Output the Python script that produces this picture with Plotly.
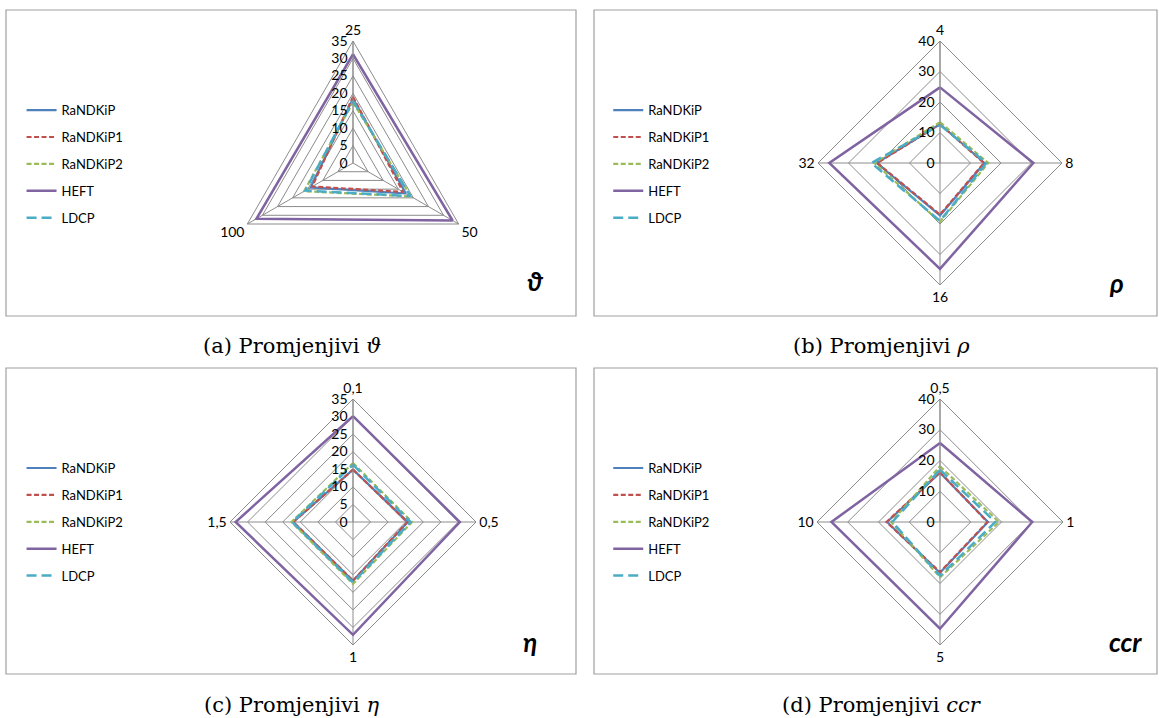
import plotly.graph_objects as go

# ---------------------------------------------------------------------------
# data
# ---------------------------------------------------------------------------
series_names = ["RaNDKiP", "RaNDKiP1", "RaNDKiP2", "HEFT", "LDCP"]

theta_cats = ["25", "50", "100"]
a_randkip = [18.5, 17.5, 14.0]
a_randkip1 = [19.0, 16.6, 13.5]
a_randkip2 = [17.4, 19.2, 16.2]
a_heft = [31.2, 33.0, 32.0]
a_ldcp = [17.8, 19.0, 15.8]

rho_cats = ["4", "8", "16", "32"]
b_randkip = [12.7, 14.6, 17.2, 20.8]
b_randkip1 = [12.7, 14.4, 16.9, 20.6]
b_randkip2 = [13.4, 15.8, 19.3, 21.5]
b_heft = [24.8, 30.6, 34.7, 36.3]
b_ldcp = [12.5, 15.2, 19.0, 22.5]

eta_cats = ["0,1", "0,5", "1", "1,5"]
c_randkip = [14.9, 15.6, 16.7, 17.0]
c_randkip1 = [14.9, 15.5, 16.7, 17.0]
c_randkip2 = [16.8, 16.8, 17.6, 17.5]
c_heft = [30.1, 30.4, 32.1, 33.4]
c_ldcp = [16.3, 16.4, 17.2, 17.3]

ccr_cats = ["0,5", "1", "5", "10"]
d_randkip = [16.0, 15.6, 16.5, 17.2]
d_randkip1 = [16.2, 15.4, 16.3, 17.4]
d_randkip2 = [18.1, 19.2, 18.0, 15.8]
d_heft = [25.7, 30.0, 34.7, 35.3]
d_ldcp = [17.0, 18.0, 17.5, 15.5]

panels = [
    ("polar", "legend", theta_cats, [a_randkip, a_randkip1, a_randkip2, a_heft, a_ldcp], 35, 5),
    ("polar2", "legend2", rho_cats, [b_randkip, b_randkip1, b_randkip2, b_heft, b_ldcp], 40, 10),
    ("polar3", "legend3", eta_cats, [c_randkip, c_randkip1, c_randkip2, c_heft, c_ldcp], 35, 5),
    ("polar4", "legend4", ccr_cats, [d_randkip, d_randkip1, d_randkip2, d_heft, d_ldcp], 40, 10),
]

styles = {
    "RaNDKiP": dict(color="#4F81BD", width=2.2, dash="solid"),
    "RaNDKiP1": dict(color="#C0504D", width=2.2, dash="5px,2.5px"),
    "RaNDKiP2": dict(color="#9BBB59", width=2.2, dash="5px,2.5px"),
    "HEFT": dict(color="#8064A2", width=2.5, dash="solid"),
    "LDCP": dict(color="#4BACC6", width=2.5, dash="10px,5px"),
}

W, H = 1159, 718
FONT = "Lato"
GRID = "#8C8C8C"


def px_dom(cx, cy, r):
    """centre/radius in pixels -> polar domain in paper coords"""
    return dict(x=[(cx - r) / W, (cx + r) / W], y=[1 - (cy + r) / H, 1 - (cy - r) / H])


domains = [px_dom(353, 163, 122), px_dom(940, 163, 122),
           px_dom(353, 522, 123), px_dom(940, 522, 123)]

fig = go.Figure()

for (pname, lname, cats, vals, rmax, dt) in panels:
    for name, v in zip(series_names, vals):
        fig.add_trace(
            go.Scatterpolar(
                r=v + [v[0]],
                theta=cats + [cats[0]],
                mode="lines",
                name=name,
                line=styles[name],
                subplot=pname,
                legend=lname,
                legendgroup=pname + name,
                hoverinfo="skip",
            )
        )

for i, (pname, lname, cats, vals, rmax, dt) in enumerate(panels):
    fig.layout[pname] = dict(
        domain=domains[i],
        gridshape="linear",
        bgcolor="white",
        radialaxis=dict(
            range=[0, rmax], dtick=dt, angle=90, side="counterclockwise",
            tickangle=90,
            showline=True, linecolor=GRID, linewidth=1,
            gridcolor=GRID, gridwidth=1, ticks="",
            tickfont=dict(family=FONT, size=14, color="black"),
        ),
        angularaxis=dict(
            type="category", categoryarray=cats, direction="clockwise", rotation=90,
            showline=True, linecolor=GRID, linewidth=1,
            gridcolor=GRID, gridwidth=1, ticks="",
            tickfont=dict(family=FONT, size=14, color="black"),
        ),
    )

# legends
leg_pos = [(0.0186, 0.8675), (0.5248, 0.8675), (0.0186, 0.369), (0.5248, 0.369)]
for (pname, lname, *_), (lx, ly) in zip(panels, leg_pos):
    fig.layout[lname] = dict(
        x=lx, y=ly, xanchor="left", yanchor="top",
        font=dict(family=FONT, size=13, color="black"),
        tracegroupgap=7, itemwidth=30, bgcolor="rgba(0,0,0,0)",
    )

# panel frames
frames = [(6, 10, 576, 316), (594, 10, 1157, 316), (6, 368, 576, 674), (594, 368, 1157, 674)]
shapes = [
    dict(type="rect", xref="paper", yref="paper",
         x0=x0 / W, x1=x1 / W, y0=1 - y1 / H, y1=1 - y0 / H,
         line=dict(color="#A0A0A0", width=1.2), layer="below")
    for (x0, y0, x1, y1) in frames
]

# corner symbols and captions
annotations = []
for txt, x, y in [("ϑ", 535, 281), ("ρ", 1116, 283), ("η", 530, 642), ("ccr", 1125, 642)]:
    annotations.append(dict(
        text=f"<b><i>{txt}</i></b>", x=x / W, y=1 - y / H, xref="paper", yref="paper",
        xanchor="center", yanchor="middle",
        showarrow=False, font=dict(family=FONT, size=26, color="black"),
    ))
for txt, x, y in [("(a) Promjenjivi <i>ϑ</i>", 292, 346), ("(b) Promjenjivi <i>ρ</i>", 882, 346),
                  ("(c) Promjenjivi <i>η</i>", 292, 705), ("(d) Promjenjivi <i>ccr</i>", 882, 705)]:
    annotations.append(dict(
        text=txt, x=x / W, y=1 - y / H, xref="paper", yref="paper",
        xanchor="center", yanchor="middle",
        showarrow=False, font=dict(family="DejaVu Serif", size=21, color="black"),
    ))

fig.update_layout(
    width=W, height=H,
    margin=dict(l=0, r=0, t=0, b=0),
    paper_bgcolor="white",
    shapes=shapes,
    annotations=annotations,
)

# drop the browser's default body margin so the figure sits at (0, 0)
fig.write_html(
    "out.html",
    config={"displayModeBar": False},
    post_script="document.body.style.margin='0';",
)
